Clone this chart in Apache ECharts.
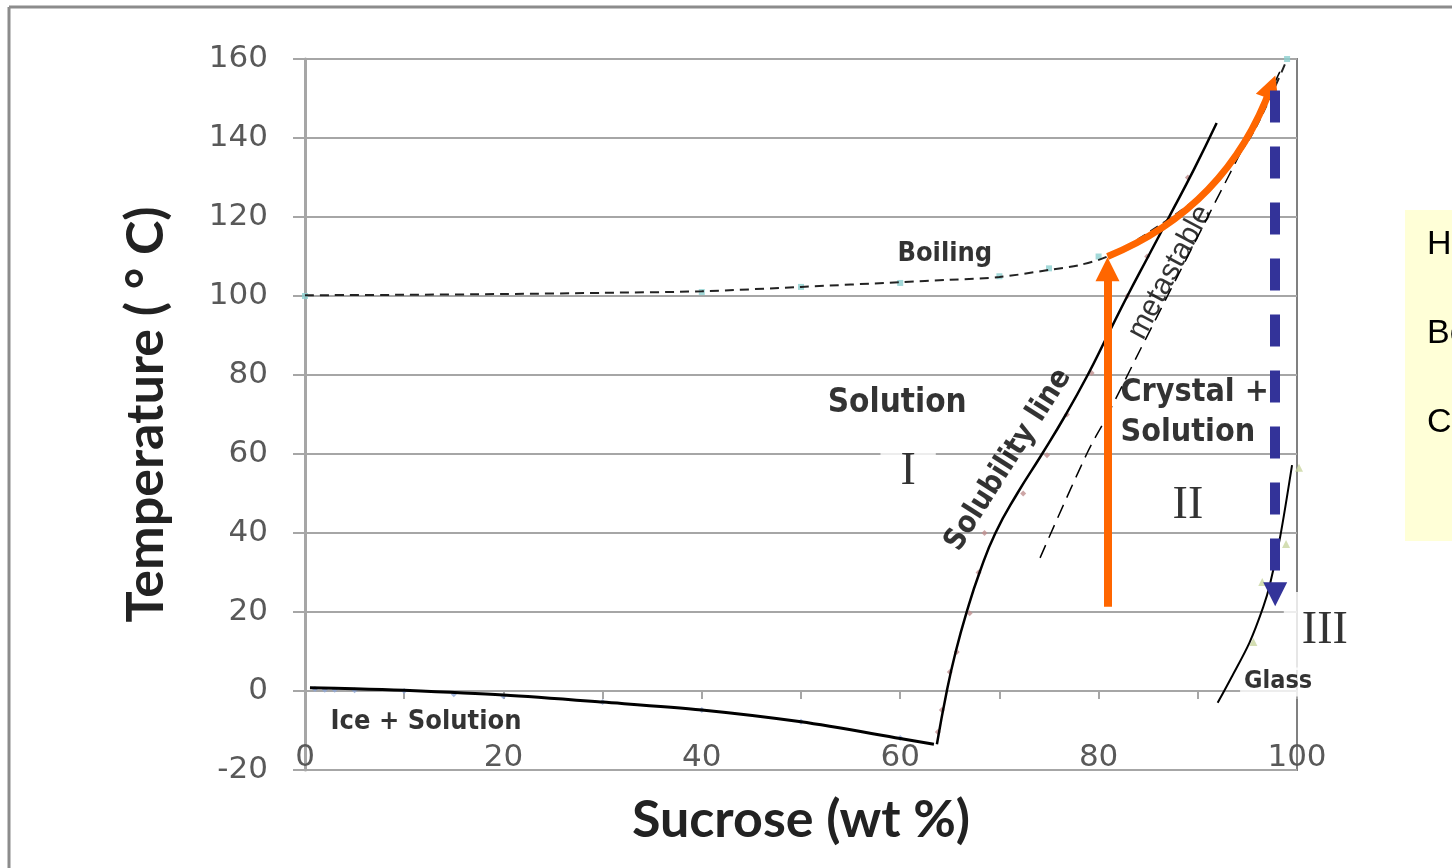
<!DOCTYPE html>
<html><head><meta charset="utf-8">
<script src="https://cdn.jsdelivr.net/npm/echarts@6/dist/echarts.min.js"></script>
<style>html,body{margin:0;padding:0;background:#fff}#c{width:1452px;height:868px}</style>
</head><body><div id="c"></div>
<script>
// ---- tick labels ----
const xTickLabels = [0, 20, 40, 60, 80, 100];
const yTickLabels = [-20, 0, 20, 40, 60, 80, 100, 120, 140, 160];

// ---- freezing (ice + solution) curve ----
const iceX = [0.5, 5, 10, 20, 30, 40, 50, 60, 63.4];
const iceY = [0.8, 0.6, 0.2, -1, -2.8, -4.8, -7.8, -12, -13.5];
const iceMarkX = [1, 2, 3, 5, 10, 15, 20, 30, 40, 50, 60];
const iceMarkY = [0.5, 0.3, 0.3, 0.2, 0, -0.8, -1.3, -2.8, -4.8, -7.8, -11.9];

// ---- solubility line ----
const solX = [63.7, 64.7, 65.6, 66.7, 68.0, 69.6, 71.8, 74.3, 76.7, 78.9, 80.9, 82.9, 85.0, 87.1, 89.6, 91.9];
const solY = [-13.5, 0, 10, 20, 30, 40, 50, 60, 70, 80, 90, 100, 110, 120, 132, 143.8];
const solMarkX = [63.8, 64.2, 65.0, 65.7, 67.0, 67.9, 68.5, 72.4, 74.8, 76.8, 79.3, 82.9, 84.9, 89.0];
const solMarkY = [-10.4, -4.8, 4.8, 9.9, 19.7, 30, 40, 50, 59.7, 70, 80.5, 100, 110, 130];

// ---- boiling curve ----
const boilX = [0, 10, 20, 30, 40, 50, 60, 65, 70, 75, 78, 80.9, 85, 90, 95, 99];
const boilY = [100.2, 100.3, 100.5, 100.8, 101.2, 102.3, 103.5, 104.1, 104.8, 106.6, 107.8, 110, 116, 125, 139, 160];
const boilMarkX = [0, 40, 50, 60, 70, 75, 80, 99];
const boilMarkY = [100, 101, 102.3, 103.3, 105, 107, 110, 160];

// ---- metastable limit ----
const metaX = [74.1, 78.8, 80.8, 84.7, 91.2, 95.1, 98.6];
const metaY = [33.7, 60, 69.4, 88.9, 121, 140.3, 158.5];

// ---- glass transition curve ----
const glassX = [92.0, 93.4, 95.2, 96.6, 97.3, 98.3, 99.5];
const glassY = [-3, 3.5, 12.2, 21.3, 27.3, 39, 57.2];
const glassMarkX = [95.6, 96.5, 98.9, 100.2];
const glassMarkY = [12.4, 27.6, 37.2, 56.5];

// ---- process arrows ----
const heatArrow = [[80.9, 21.3], [80.9, 106.8]];
const boilArrow = [[80.9, 110], [97.4, 153]];
const coolArrow = [[97.8, 152], [97.8, 24.5]];

const pairs = (xs, ys) => xs.map((x, i) => [x, ys[i]]);

const boldFont = "'DejaVu Sans Condensed', 'DejaVu Sans', sans-serif";
const annot = [
  { value: [64.5, 110.6], text: 'Boiling', size: 27 },
  { value: [59.7, 72.8], text: 'Solution', size: 33 },
  { value: [12.2, -7.8], text: 'Ice + Solution', size: 27 },
  { value: [98.1, 2.3], text: 'Glass', size: 25, bg: '#fff' },
  { value: [70.9, 58.5], text: 'Solubility line', size: 30, rotate: 57.5 },
];

const chart = echarts.init(document.getElementById('c'));

const labelItems = annot.map(a => ({
  value: a.value,
  label: {
    show: true, position: 'inside', formatter: a.text, fontFamily: boldFont, fontWeight: 'bold',
    fontSize: a.size, color: '#000', rotate: a.rotate || 0,
    backgroundColor: a.bg || 'transparent', padding: a.bg ? [2, 4] : 0
  }
}));
labelItems.push({
  value: [82.2, 70.4],
  label: { show: true, position: 'inside', align: 'left', formatter: 'Crystal +\nSolution', fontFamily: boldFont,
    fontWeight: 'bold', fontSize: 32, lineHeight: 40, color: '#000' }
});
labelItems.push({
  value: [87.2, 106],
  label: { show: true, position: 'inside', formatter: 'metastable', fontFamily: "'Liberation Sans', Arial, sans-serif",
    fontSize: 30, color: '#000', rotate: 62 }
});
const roman = [
  { value: [60.8, 55.4], text: 'I', pad: [0, 20, 0, 20] },
  { value: [89.0, 46.8], text: 'II', pad: 0 },
  { value: [102.6, 15.2], text: 'III', pad: [16, 14, 16, 18] },
];
roman.forEach(r => labelItems.push({
  value: r.value,
  label: { show: true, position: 'inside', formatter: r.text, fontFamily: "'Liberation Serif', 'Times New Roman', serif",
    fontSize: 46, color: '#000', backgroundColor: '#fff', padding: r.pad }
}));

const tickStyle = { color: '#a6a6a6', width: 2 };

const option = {
  animation: false,
  backgroundColor: '#fff',
  grid: { left: 305, top: 59, width: 992, height: 711, show: true, borderColor: '#808080', borderWidth: 2,
    backgroundColor: 'transparent', containLabel: false, outerBoundsMode: 'none' },
  xAxis: {
    type: 'value', min: 0, max: 100, interval: 10, position: 'bottom',
    axisLine: { show: true, onZero: true, lineStyle: { color: '#a6a6a6', width: 2 } },
    axisTick: { show: true, length: 8, lineStyle: tickStyle },
    axisLabel: { inside: true, margin: -3, fontSize: 31, color: '#595959', fontFamily: "'DejaVu Sans', sans-serif",
      formatter: v => (xTickLabels.indexOf(v) >= 0 ? String(v) : '') },
    splitLine: { show: false },
    name: 'Sucrose (wt %)', nameLocation: 'middle', nameGap: 24,
    nameTextStyle: { fontFamily: "Lato, 'Open Sans', sans-serif", fontWeight: 'bold', fontSize: 52, color: '#222' }
  },
  yAxis: {
    type: 'value', min: -20, max: 160, interval: 20,
    axisLine: { show: true, onZero: false, lineStyle: { color: '#a6a6a6', width: 3 } },
    axisTick: { show: true, length: 12, lineStyle: tickStyle },
    axisLabel: { margin: 37, fontSize: 31, color: '#595959', fontFamily: "'DejaVu Sans', sans-serif",
      formatter: v => (yTickLabels.indexOf(v) >= 0 ? String(v) : '') },
    splitLine: { show: true, lineStyle: { color: '#a6a6a6', width: 2 } },
    name: 'Temperature ( \u00b0 C)', nameLocation: 'middle', nameGap: 133,
    nameTextStyle: { fontFamily: "Lato, 'Open Sans', sans-serif", fontWeight: 'bold', fontSize: 52, color: '#222' }
  },
  series: [
    { type: 'scatter', data: pairs(iceMarkX, iceMarkY), symbol: 'diamond', symbolSize: 6, itemStyle: { color: '#8fa8d8' }, z: 2, silent: true },
    { type: 'scatter', data: pairs(solMarkX, solMarkY), symbol: 'diamond', symbolSize: 6, itemStyle: { color: '#c09090' }, z: 2, silent: true },
    { type: 'scatter', data: pairs(boilMarkX, boilMarkY), symbol: 'rect', symbolSize: 6, itemStyle: { color: '#8ccfd0' }, z: 2, silent: true, clip: false },
    { type: 'scatter', data: pairs(glassMarkX, glassMarkY), symbol: 'triangle', symbolSize: 8, itemStyle: { color: '#c9d6a0' }, z: 2, silent: true, clip: false },
    { type: 'line', data: pairs(boilX, boilY), smooth: 0.3, symbol: 'none', lineStyle: { color: '#222', width: 2, type: [9, 6] }, z: 3, silent: true },
    { type: 'line', data: pairs(iceX, iceY), smooth: 0.3, symbol: 'none', lineStyle: { color: '#000', width: 3 }, z: 3, silent: true },
    { type: 'line', data: pairs(solX, solY), smooth: 0.5, symbol: 'none', lineStyle: { color: '#000', width: 2.5 }, z: 3, silent: true },
    { type: 'line', data: pairs(glassX, glassY), smooth: 0.3, symbol: 'none', lineStyle: { color: '#000', width: 2 }, z: 3, silent: true },
    { type: 'line', data: pairs(metaX, metaY), smooth: 0.4, symbol: 'none', lineStyle: { color: '#000', width: 1.5, type: [14, 8] }, z: 3, silent: true },
    { type: 'scatter', data: labelItems, symbolSize: 0, z: 6, silent: true, clip: false },
    { type: 'lines', coordinateSystem: 'cartesian2d', silent: true, z: 8,
      symbol: ['none', 'triangle'], symbolSize: 24,
      data: [{ coords: heatArrow }], lineStyle: { color: '#ff6600', width: 8, opacity: 1, curveness: 0 } },
    { type: 'lines', coordinateSystem: 'cartesian2d', silent: true, z: 8,
      symbol: ['none', 'triangle'], symbolSize: 24,
      data: [{ coords: boilArrow }], lineStyle: { color: '#ff6600', width: 7, opacity: 1, curveness: -0.22 } },
    { type: 'lines', coordinateSystem: 'cartesian2d', silent: true, z: 8,
      symbol: ['none', 'triangle'], symbolSize: 24,
      data: [{ coords: coolArrow }], lineStyle: { color: '#333399', width: 10, opacity: 1, type: [32, 24], curveness: 0 } }
  ],
  graphic: [
    { type: 'line', shape: { x1: 9, y1: 7, x2: 9, y2: 868 }, style: { stroke: '#8c8c8c', lineWidth: 3 }, silent: true },
    { type: 'line', shape: { x1: 9, y1: 7, x2: 1452, y2: 7 }, style: { stroke: '#8c8c8c', lineWidth: 3 }, silent: true },
    { type: 'rect', shape: { x: 1405, y: 210, width: 60, height: 331 }, style: { fill: '#ffffd7' }, silent: true },
    { type: 'text', x: 1427, y: 245, style: { text: 'H', font: "34px 'Liberation Sans', Arial, sans-serif", fill: '#000', verticalAlign: 'middle' }, silent: true },
    { type: 'text', x: 1427, y: 334, style: { text: 'Bo', font: "34px 'Liberation Sans', Arial, sans-serif", fill: '#000', verticalAlign: 'middle' }, silent: true },
    { type: 'text', x: 1427, y: 423, style: { text: 'C', font: "34px 'Liberation Sans', Arial, sans-serif", fill: '#000', verticalAlign: 'middle' }, silent: true }
  ]
};
chart.setOption(option);
</script>
</body></html>
